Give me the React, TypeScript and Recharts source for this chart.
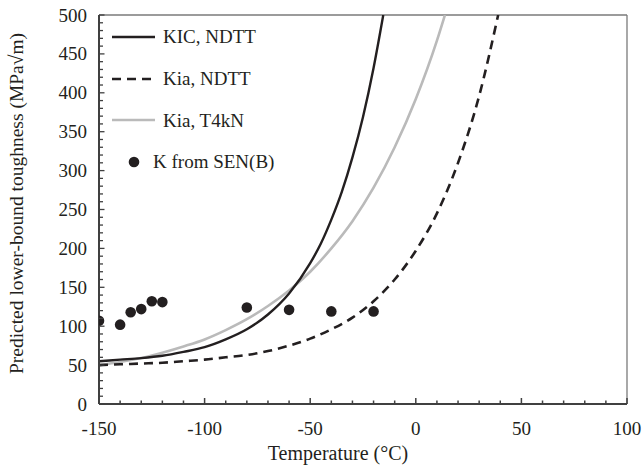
import React from 'react';
import { ComposedChart, Line, Scatter, XAxis, YAxis, Legend, ReferenceLine } from 'recharts';

const FONT = '"Liberation Serif", "Times New Roman", Times, serif';
const INK = '#231f20';
const GREY = '#bababa';

// KIC, NDTT (solid black)
const kicTemps = [-150, -140, -130, -120, -110, -100, -90, -80, -70, -60, -50, -45, -40, -35, -30, -25, -20, -15.4];
const kicValues = [55, 57, 59, 62, 67, 73, 83, 96, 115, 142, 181, 206, 237, 273, 317, 369, 432, 500];

// Kia, NDTT (dashed black)
const kiaNdttTemps = [-150, -140, -130, -120, -110, -100, -90, -80, -70, -60, -50, -40, -30, -20, -10, 0, 10, 20, 30, 39];
const kiaNdttValues = [50, 51, 52, 53, 55, 57, 60, 63, 68, 75, 84, 96, 111, 132, 160, 197, 245, 310, 396, 500];

// Kia, T4kN (solid grey)
const kiaT4Temps = [-150, -140, -130, -120, -110, -100, -90, -80, -70, -60, -50, -40, -30, -20, -10, 0, 10, 13.8];
const kiaT4Values = [50, 54, 59, 66, 74, 83, 95, 109, 126, 146, 170, 200, 235, 278, 330, 392, 467, 500];

// K from SEN(B) test results
const senTemps = [-150, -140, -135, -130, -125, -120, -80, -60, -40, -20];
const senValues = [107, 102, 118, 122, 132, 131, 124, 121, 119, 119];

// axis ticks: minor every 10, labelled every 50
const xTicks = [-150, -140, -130, -120, -110, -100, -90, -80, -70, -60, -50, -40, -30, -20, -10, 0, 10, 20, 30, 40, 50, 60, 70, 80, 90, 100];
const yTicks = [0, 10, 20, 30, 40, 50, 60, 70, 80, 90, 100, 110, 120, 130, 140, 150, 160, 170, 180, 190, 200, 210, 220, 230, 240, 250, 260, 270, 280, 290, 300, 310, 320, 330, 340, 350, 360, 370, 380, 390, 400, 410, 420, 430, 440, 450, 460, 470, 480, 490, 500];

const toRows = (ts: number[], ks: number[]) => ts.map((t, i) => ({ t, k: ks[i] }));

const kicData = toRows(kicTemps, kicValues);
const kiaNdttData = toRows(kiaNdttTemps, kiaNdttValues);
const kiaT4Data = toRows(kiaT4Temps, kiaT4Values);
const senData = toRows(senTemps, senValues);

const XTick = (props: any) => {
  const { x, y, payload } = props;
  const v = payload.value;
  const major = v % 50 === 0;
  return (
    <g>
      <line x1={x} x2={x} y1={y} y2={y - (major ? 6 : 3.5)} stroke="#404040" strokeWidth={1.5} />
      {major && (
        <text x={x} y={y + 31} textAnchor="middle" fontFamily={FONT} fontSize={19} fill={INK}>
          {v}
        </text>
      )}
    </g>
  );
};

const YTick = (props: any) => {
  const { x, y, payload } = props;
  const v = payload.value;
  const major = v % 50 === 0;
  return (
    <g>
      <line x1={x} x2={x + (major ? 5.5 : 4)} y1={y} y2={y} stroke="#404040" strokeWidth={1.3} />
      {major && (
        <text x={x - 12} y={y + 6.5} textAnchor="end" fontFamily={FONT} fontSize={19} fill={INK}>
          {v}
        </text>
      )}
    </g>
  );
};

const XTitle = (props: any) => {
  const { x, y, width } = props.viewBox;
  return (
    <text x={x + width / 2 - 25} y={y + 56} textAnchor="middle" fontFamily={FONT} fontSize={20} fill={INK}>
      Temperature (°C)
    </text>
  );
};

const YTitle = (props: any) => {
  const { y, height } = props.viewBox;
  const cx = 23;
  const cy = y + height / 2 - 6;
  return (
    <text
      x={cx}
      y={cy}
      transform={`rotate(-90, ${cx}, ${cy})`}
      textAnchor="middle"
      fontFamily={FONT}
      fontSize={19.5}
      fill={INK}
    >
      Predicted lower-bound toughness (MPa√m)
    </text>
  );
};

const legendItems = [
  { label: 'KIC, NDTT', kind: 'solid', color: INK },
  { label: 'Kia, NDTT', kind: 'dash', color: INK },
  { label: 'Kia, T4kN', kind: 'solid', color: GREY },
  { label: 'K from SEN(B)', kind: 'dot', color: INK },
];

const LegendBox = () => (
  <div style={{ fontFamily: FONT, fontSize: 19, color: INK }}>
    {legendItems.map((it) => (
      <div key={it.label} style={{ display: 'flex', alignItems: 'center', height: 41.7 }}>
        {it.kind === 'dot' ? (
          <svg width={41} height={14} style={{ display: 'block' }}>
            <circle cx={22} cy={7} r={5.3} fill={it.color} />
          </svg>
        ) : (
          <svg width={43} height={14} style={{ display: 'block' }}>
            <line
              x1={0}
              x2={43}
              y1={7}
              y2={7}
              stroke={it.color}
              strokeWidth={2.6}
              strokeDasharray={it.kind === 'dash' ? '9 6' : undefined}
            />
          </svg>
        )}
        <span style={{ marginLeft: it.kind === 'dot' ? 0 : 8, whiteSpace: 'nowrap', lineHeight: 1 }}>{it.label}</span>
      </div>
    ))}
  </div>
);

export default function App() {
  return (
    <div style={{ position: 'absolute', left: 0, top: 0, background: '#fff' }}>
      <ComposedChart width={643} height={473} margin={{ top: 15, right: 16, bottom: 0, left: 0 }}>
        <XAxis
          dataKey="t"
          type="number"
          domain={[-150, 100]}
          ticks={xTicks}
          interval={0}
          allowDataOverflow
          height={69}
          tickSize={0}
          tickMargin={0}
          tickLine={false}
          tick={<XTick />}
          axisLine={{ stroke: '#404040', strokeWidth: 2 }}
          label={{ content: <XTitle /> }}
        />
        <YAxis
          dataKey="k"
          type="number"
          domain={[0, 500]}
          ticks={yTicks}
          interval={0}
          allowDataOverflow
          width={99}
          tickSize={0}
          tickMargin={0}
          tickLine={false}
          tick={<YTick />}
          axisLine={{ stroke: '#404040', strokeWidth: 2 }}
          label={{ content: <YTitle /> }}
        />
        <ReferenceLine y={500} stroke="#7a7a7a" strokeWidth={1.3} />
        <ReferenceLine x={100} stroke="#7a7a7a" strokeWidth={1.3} />
        <Legend
          layout="vertical"
          align="center"
          verticalAlign="middle"
          content={<LegendBox />}
          wrapperStyle={{ left: 112, top: 16, width: 220, height: 'auto' }}
        />
        <Line
          data={kiaT4Data}
          dataKey="k"
          type="monotone"
          stroke={GREY}
          strokeWidth={2.6}
          dot={false}
          activeDot={false}
          isAnimationActive={false}
        />
        <Line
          data={kiaNdttData}
          dataKey="k"
          type="monotone"
          stroke={INK}
          strokeWidth={2.6}
          strokeDasharray="9 6"
          dot={false}
          activeDot={false}
          isAnimationActive={false}
        />
        <Line
          data={kicData}
          dataKey="k"
          type="monotone"
          stroke={INK}
          strokeWidth={2.4}
          dot={false}
          activeDot={false}
          isAnimationActive={false}
        />
        <Scatter
          data={senData}
          dataKey="k"
          fill={INK}
          isAnimationActive={false}
          shape={(p: any) => <circle cx={p.cx} cy={p.cy} r={5.3} fill={INK} />}
        />
      </ComposedChart>
    </div>
  );
}
